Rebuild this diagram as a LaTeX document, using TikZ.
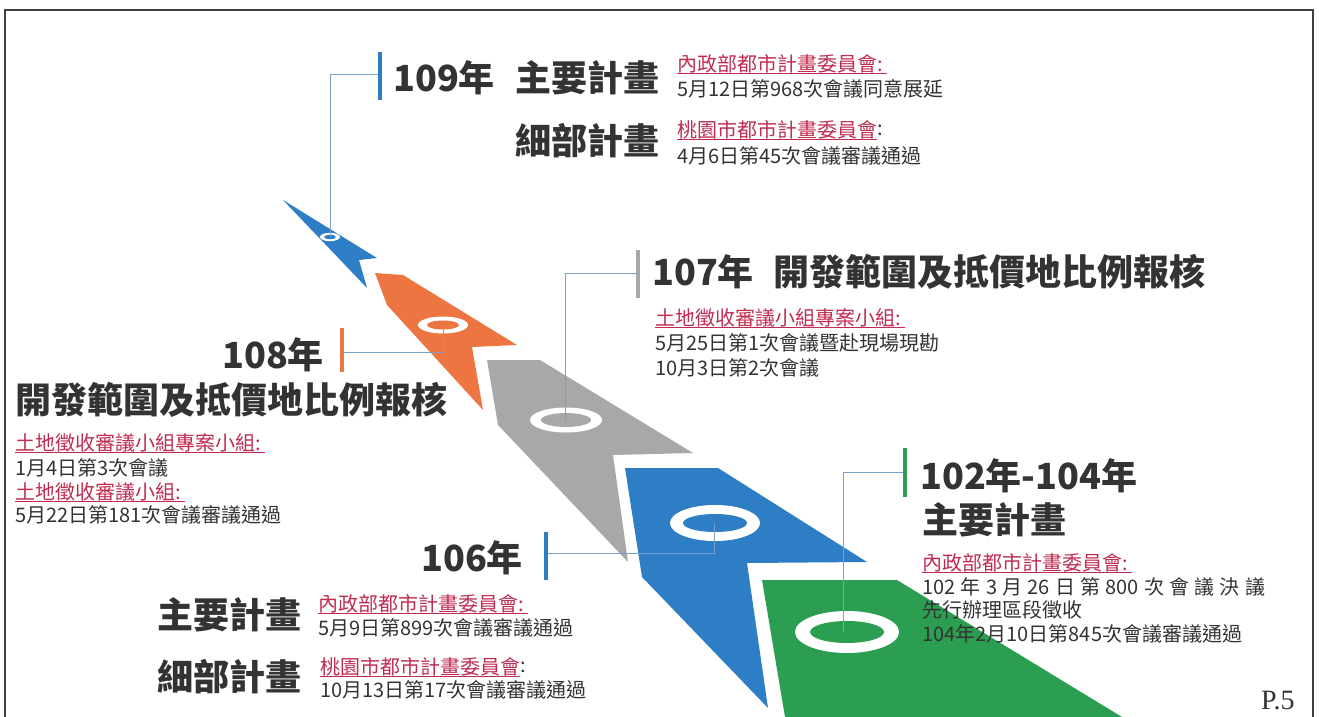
\documentclass[tikz,border=0pt]{standalone}
\usepackage{fontspec}
\setmainfont{Liberation Serif}
\newfontfamily\cjk{Noto Sans CJK TC}
\definecolor{cblue}{RGB}{46,126,198}
\definecolor{corange}{RGB}{236,117,66}
\definecolor{cgray}{RGB}{168,168,168}
\definecolor{cgreen}{RGB}{44,158,82}
\definecolor{ctext}{RGB}{51,51,51}
\definecolor{cred}{RGB}{192,44,80}
\definecolor{clead}{RGB}{120,160,200}
\tikzset{
  head/.style={font=\cjk\bfseries\fontsize{36}{40}\selectfont, text=ctext, anchor=west, inner sep=0pt},
  body/.style={font=\cjk\fontsize{20}{24}\selectfont, text=ctext, anchor=west, inner sep=0pt},
  redt/.style={body, text=cred},
  uline/.style={draw=cred, line width=0.8pt},
  lead/.style={draw=clead, line width=1pt},
  yearbar/.style={line width=4pt},
  ringout/.style={fill=white},
}
\begin{document}
\begin{tikzpicture}[x=1pt,y=-1pt]
\useasboundingbox (0,0) rectangle (1319,717);
% frame
\draw[line width=1.2pt, black!75] (5,717) -- (5,10) -- (1313,10) -- (1313,717);

% chevrons
\fill[cblue] (283,200) -- (377,258) -- (359,260) -- (367,288) -- cycle;
\fill[ringout] (330,237) ellipse [x radius=10, y radius=4.2];
\fill[cblue] (330,237) ellipse [x radius=6, y radius=2.2];

\fill[corange] (375,273) -- (403,275) -- (517,345) -- (472,347) -- (483,410) -- (387,305) -- cycle;
\fill[ringout] (443,325) ellipse [x radius=25, y radius=8.5];
\fill[corange] (443,325) ellipse [x radius=16, y radius=4.5];

\fill[cgray] (487,360) -- (540,360) -- (693,453) -- (613,455) -- (628,562) -- (498,425) -- cycle;
\fill[ringout] (566,420) ellipse [x radius=36, y radius=12.5];
\fill[cgray] (566,420) ellipse [x radius=25, y radius=7];

\fill[cblue] (625,468) -- (718,468) -- (867,562) -- (747,563) -- (768,708) -- (642,577) -- cycle;
\fill[ringout] (715,523) ellipse [x radius=45, y radius=18];
\fill[cblue] (715,523) ellipse [x radius=32, y radius=9];

\fill[cgreen] (762,580) -- (897,580) -- (1122,717) -- (785,717) -- cycle;
\fill[ringout] (847,632) ellipse [x radius=52, y radius=21];
\fill[cgreen] (847,632) ellipse [x radius=37, y radius=11];

% year bars
\coordinate (b109t) at (380,52);  \coordinate (b109b) at (380,100);
\coordinate (b108t) at (342,328); \coordinate (b108b) at (342,372);
\coordinate (b107t) at (638,250); \coordinate (b107b) at (638,298);
\coordinate (b106t) at (546,532); \coordinate (b106b) at (546,580);
\coordinate (b102t) at (905,448); \coordinate (b102b) at (905,497);
\draw[yearbar, cblue] (b109t) -- (b109b);
\draw[yearbar, corange] (b108t) -- (b108b);
\draw[yearbar, cgray] (b107t) -- (b107b);
\draw[yearbar, cblue] (b106t) -- (b106b);
\draw[yearbar, cgreen] (b102t) -- (b102b);

% leaders
\coordinate (r109) at (330,237); \coordinate (e109) at (378,74);
\coordinate (r108) at (443,325); \coordinate (e108) at (344,352);
\coordinate (r107) at (565,420); \coordinate (e107) at (636,273);
\coordinate (r106) at (714,523); \coordinate (e106) at (548,553);
\coordinate (r102) at (843,632); \coordinate (e102) at (903,472);
\draw[lead] (r109) |- (e109);
\draw[lead] (r108) |- (e108);
\draw[lead] (r107) |- (e107);
\draw[lead] (r106) |- (e106);
\draw[lead] (r102) |- (e102);

% 109
\node[head] (y109) at (393,78) {109年};
\node[head] (m109) at (515,78) {主要計畫};
\node[head] (d109) at (515,141) {細部計畫};
\node[redt] (r109a) at (677,64) {內政部都市計畫委員會:};
\draw[uline] (r109a.south west) -- ([xshift=4pt]r109a.south east);
\node[body] (t109a) at (677,89) {5月12日第968次會議同意展延};
\node[redt] (r109b) at (677,130) {桃園市都市計畫委員會};
\draw[uline] (r109b.south west) -- (r109b.south east);
\node[body, anchor=west] (c109b) at (r109b.east) {:};
\node[body] (t109b) at (677,156) {4月6日第45次會議審議通過};

% 107
\node[head] (y107) at (652,272) {107年};
\node[head] (h107) at (773,272) {開發範圍及抵價地比例報核};
\node[redt] (r107) at (655,318) {土地徵收審議小組專案小組:};
\draw[uline] (r107.south west) -- ([xshift=4pt]r107.south east);
\node[body] (t107a) at (655,343) {5月25日第1次會議暨赴現場現勘};
\node[body] (t107b) at (655,368) {10月3日第2次會議};

% 108
\node[head] (y108) at (222,355) {108年};
\node[head] (h108) at (15,400) {開發範圍及抵價地比例報核};
\node[redt] (r108a) at (15,443) {土地徵收審議小組專案小組:};
\draw[uline] (r108a.south west) -- ([xshift=4pt]r108a.south east);
\node[body] (t108a) at (15,468) {1月4日第3次會議};
\node[redt] (r108b) at (15,492) {土地徵收審議小組:};
\draw[uline] (r108b.south west) -- ([xshift=4pt]r108b.south east);
\node[body] (t108b) at (15,515) {5月22日第181次會議審議通過};

% 106
\node[head] (y106) at (421,558) {106年};
\node[head] (m106) at (157,615) {主要計畫};
\node[redt] (r106a) at (318,604) {內政部都市計畫委員會:};
\draw[uline] (r106a.south west) -- ([xshift=4pt]r106a.south east);
\node[body] (t106a) at (318,628) {5月9日第899次會議審議通過};
\node[head] (d106) at (157,677) {細部計畫};
\node[redt] (r106b) at (320,667) {桃園市都市計畫委員會};
\draw[uline] (r106b.south west) -- (r106b.south east);
\node[body, anchor=west] (c106b) at (r106b.east) {:};
\node[body] (t106b) at (320,690) {10月13日第17次會議審議通過};

% 102-104
\node[head] (y102) at (920,476) {102年-104年};
\node[head] (m102) at (922,520) {主要計畫};
\node[redt] (r102) at (922,563) {內政部都市計畫委員會:};
\draw[uline] (r102.south west) -- ([xshift=4pt]r102.south east);
\node[body] (t102a) at (922,587) {\makebox[343pt][s]{102 年 3 月 26 日 第 800 次 會 議 決 議}};
\node[body] (t102b) at (922,610) {先行辦理區段徵收};
\node[body] (t102c) at (922,634) {104年2月10日第845次會議審議通過};

% page
\node[font=\fontsize{28}{30}\selectfont, text=ctext, anchor=west, inner sep=0pt] (page) at (1261,701) {P.5};
\end{tikzpicture}
\end{document}
